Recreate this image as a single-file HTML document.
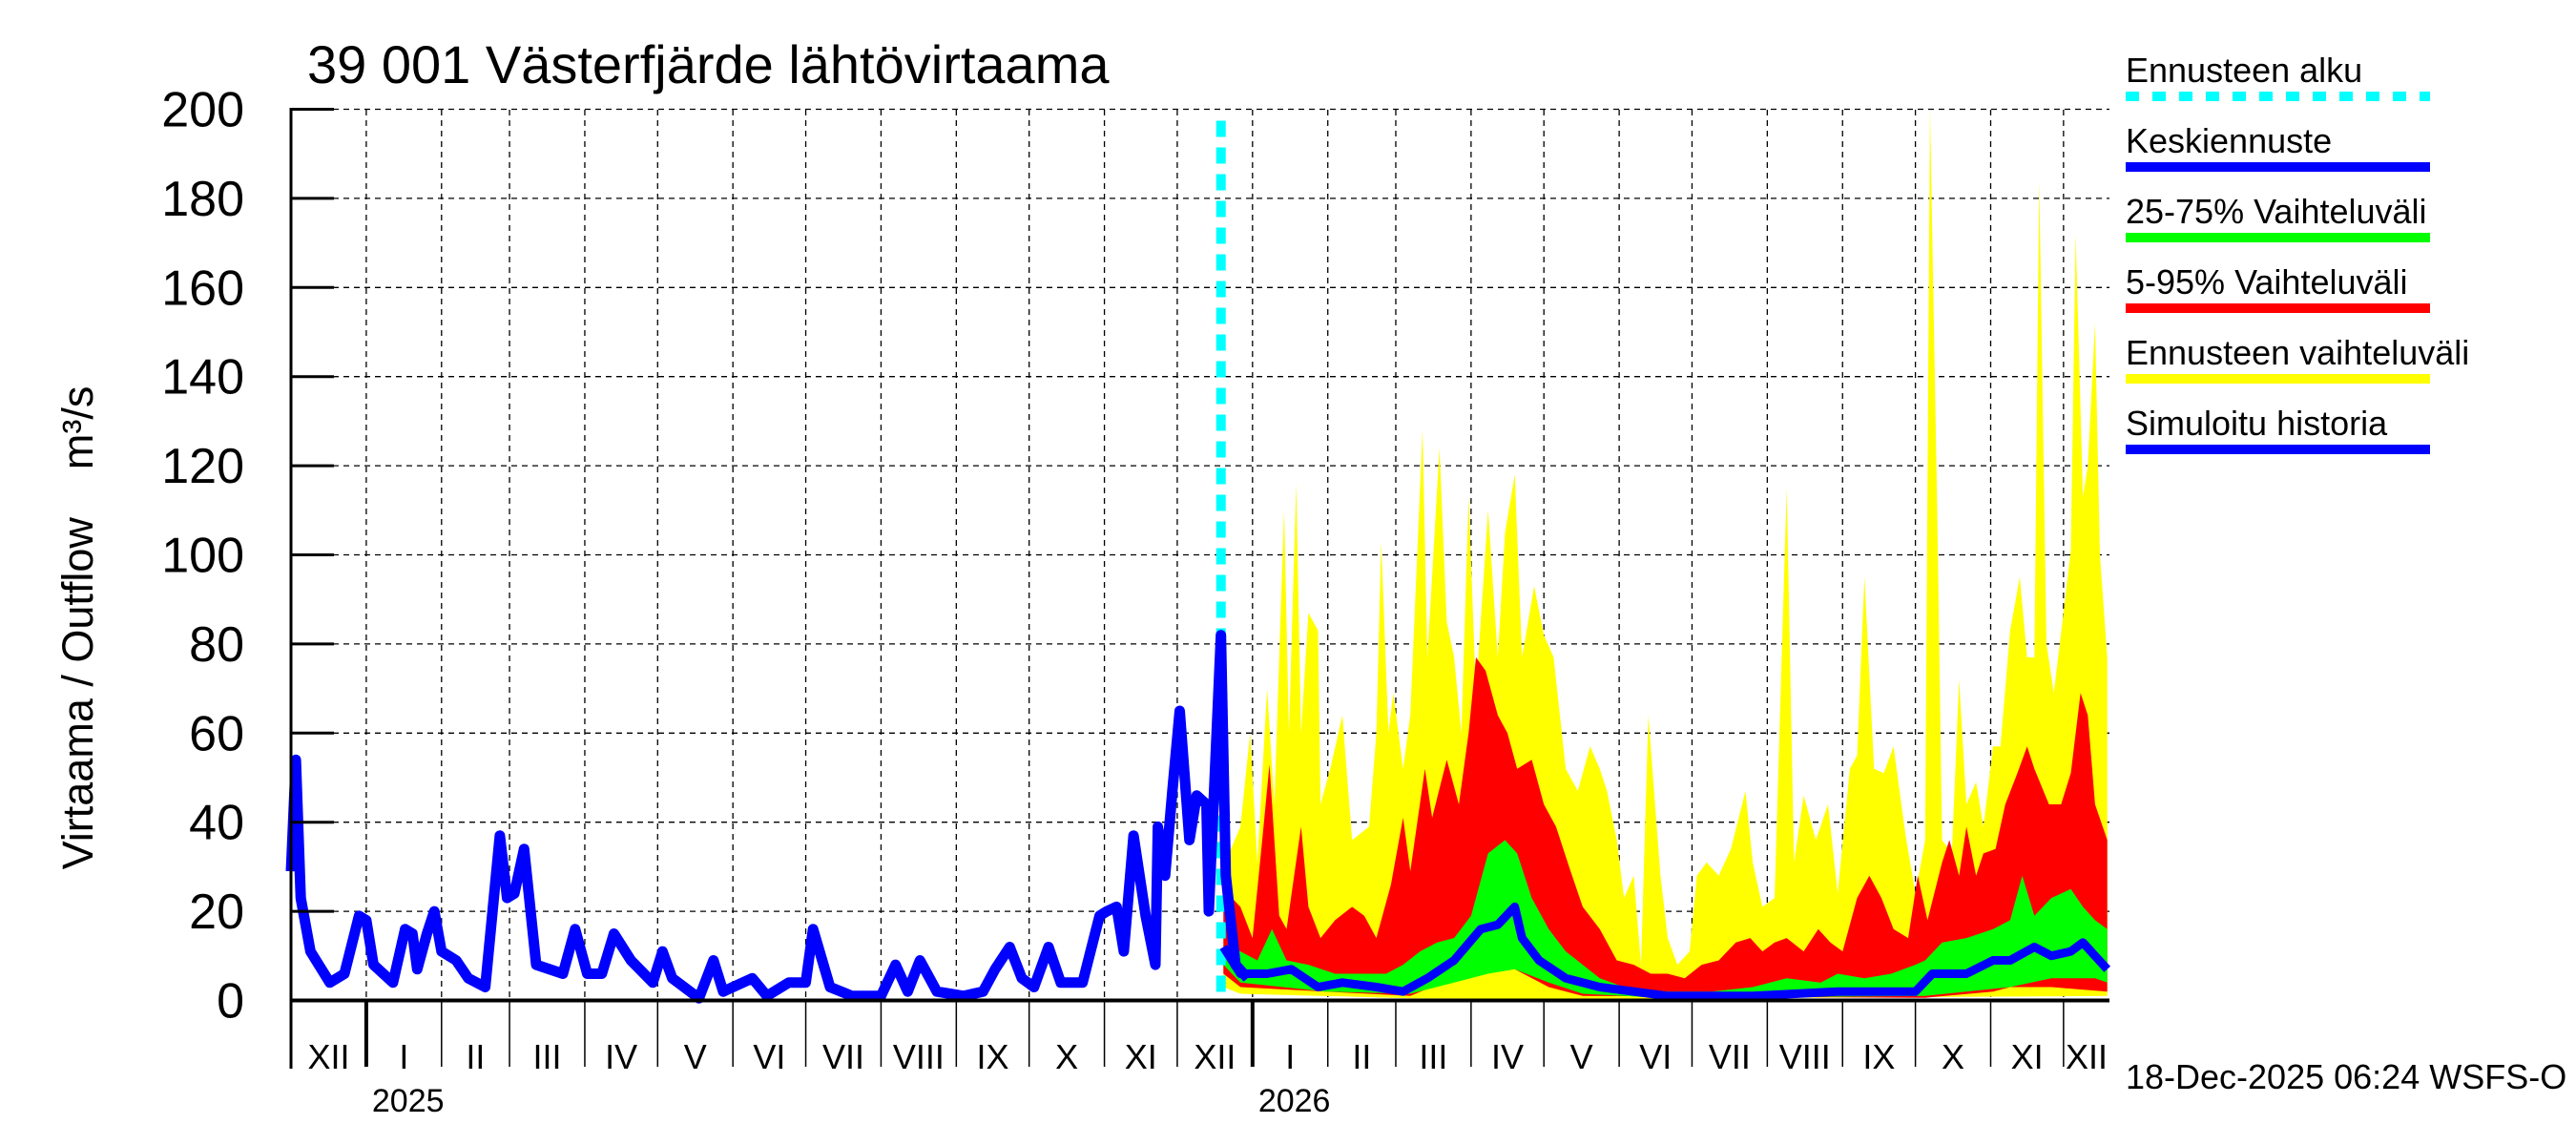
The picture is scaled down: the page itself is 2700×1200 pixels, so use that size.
<!DOCTYPE html>
<html><head><meta charset="utf-8"><style>
html,body{margin:0;padding:0;background:#fff;}
svg{display:block;font-family:"Liberation Sans",Arial,sans-serif;}
</style></head><body>
<svg id="chart" width="2700" height="1200" viewBox="0 0 2700 1200">
<rect x="0" y="0" width="2700" height="1200" fill="#fff"/>
<g id="grid"></g>
<g id="bands"></g>
<g id="lines"></g>
<g id="axes"></g>
<text x="322" y="87" font-size="56">39 001 Västerfjärde lähtövirtaama</text>
<text transform="translate(97,658) rotate(-90)" text-anchor="middle" font-size="45" xml:space="preserve" style="white-space:pre">Virtaama / Outflow    m³/s</text>
<text x="2228" y="1141" font-size="36">18-Dec-2025 06:24 WSFS-O</text>
<g id="legend"></g>
</svg>
<script>
// ---- data ----
const yTicks = [0,20,40,60,80,100,120,140,160,180,200];
const monthLabels = ["XII","I","II","III","IV","V","VI","VII","VIII","IX","X","XI","XII","I","II","III","IV","V","VI","VII","VIII","IX","X","XI","XII"];
const monthStartDays = [0,31,62,90,121,151,182,212,243,274,304,335,365,396,427,455,486,516,547,577,608,639,669,700,730];
const yearLabels = ["2025","2026"];
const yearStartDays = [31,396];
const forecastStartDay = 383;
// simulated history (days since 2024-12-01, m3/s)
const histDays = [0,2,4,8,16,22,28,31,34,42,47,50,52,56,59,62,68,73,80,86,89,92,96,101,112,117,122,128,133,140,149,153,157,168,174,178,190,196,205,212,215,222,231,243,249,254,259,266,277,285,290,296,301,306,312,317,326,333,336,340,343,347,352,356,357,360,363,366,370,373,377,378,383,385,389,394];
const histVals = [29,54,23,11,4,6,19,18,8,4,16,15,7,15,20,11,9,5,3,37,23,24,34,8,6,16,6,6,15,9,4,11,5,0.5,9,2,5,1,4,4,16,3,1,1,8,2,9,2,1,2,7,12,5,3,12,4,4,19,20,21,11,37,19,8,39,28,47,65,36,46,44,20,82,28,8,5];
// forecast envelopes (days since 2024-12-01)
const ymaxDays = [384,391,395,398,402,405,409,411,414,416,419,423,424,428,433,437,444,447,449,452,454,458,461,466,468,473,476,479,482,485,488,493,497,500,504,507,512,516,520,525,530,535,539,542,546,549,553,556,559,564,567,571,576,579,583,588,593,599,602,606,611,616,619,623,628,633,637,642,645,648,652,656,660,665,669,673,675,678,680,684,687,690,694,697,701,704,708,712,715,718,720,723,726,730,733,735,738,740,743,745,748];
const ymaxVals = [30,39,60,31,70,44,110,60,116,60,87,83,44,52,64,36,39,60,103,60,69,52,64,128,77,124,85,77,60,113,69,110,77,105,118,77,93,82,77,52,47,57,52,47,36,23,28,8,64,28,14,8,11,28,31,28,34,47,31,21,23,115,31,46,36,44,24,52,55,95,52,51,57,37,24,36,200,110,36,33,72,44,49,39,57,57,83,95,77,77,184,80,69,87,101,172,113,120,152,100,77];
const p95Days = [384,391,396,400,403,407,410,416,419,424,430,437,442,447,453,458,461,467,470,476,481,485,488,492,497,501,505,511,516,521,527,532,539,546,553,560,567,574,581,588,595,601,606,611,616,623,629,634,639,645,650,655,660,666,670,674,680,683,687,690,694,697,702,706,711,715,718,724,729,733,737,740,743,748];
const p95Vals = [25,21,14,36,53,19,16,39,21,14,18,21,19,14,26,41,29,52,41,54,44,60,77,74,64,60,52,54,44,39,29,21,16,9,8,6,6,5,8,9,13,14,11,13,14,11,16,13,11,23,28,23,16,14,28,18,31,36,28,39,28,33,34,44,51,57,52,44,44,51,69,64,44,36];
const p75Days = [384,391,398,404,410,419,430,440,451,458,465,472,479,486,493,500,505,511,518,525,532,539,549,567,585,602,616,630,637,648,659,669,673,680,690,701,708,713,718,725,733,738,743,748];
const p75Vals = [12,11,9,16,9,8,6,6,6,8,11,13,14,19,33,36,33,23,16,11,8,5,3,2,2,3,5,4,6,5,6,8,9,13,14,16,18,28,19,23,25,21,18,16];
const meanDays = [384,391,402,412,423,433,447,458,468,479,490,497,504,507,514,525,539,553,567,602,637,669,676,690,701,708,718,725,733,738,743,748];
const meanVals = [12,6,6,7,3,4,3,2,5,9,16,17,21,14,9,5,3,2,1,1,2,2,6,6,9,9,12,10,11,13,10,7];
const p25Days = [384,391,426,461,479,493,504,518,532,567,673,690,708,725,743,748];
const p25Vals = [8,4,2,1.5,4,6,7,4,1.5,0.5,1,2,3,5,5,4];
const p5Days = [384,391,426,461,483,493,504,518,532,673,701,708,725,748];
const p5Vals = [6,3,2,1,6,9,7,3,1,0.6,2,3,3,2];
const yminDays = [384,391,461,532,748];
const yminVals = [3,1.5,0.5,0.3,1];

// ---- scales ----
const X0=305, PXD=2.545, Y0=1048.5, PXV=4.67, XR=2211, YT=115;
const xs = d => X0 + d*PXD;
const ys = v => Y0 - v*PXV;
const NS='http://www.w3.org/2000/svg';
function mk(tag, attrs, parent){const e=document.createElementNS(NS,tag);for(const k in attrs)e.setAttribute(k,attrs[k]);parent.appendChild(e);return e;}
function bandPath(dU,vU,dL,vL){
  let p='M'+xs(dU[0]).toFixed(1)+','+ys(vU[0]).toFixed(1);
  for(let i=1;i<dU.length;i++) p+=' L'+xs(dU[i]).toFixed(1)+','+ys(vU[i]).toFixed(1);
  for(let i=dL.length-1;i>=0;i--) p+=' L'+xs(dL[i]).toFixed(1)+','+ys(vL[i]).toFixed(1);
  return p+' Z';
}
function linePts(days, vals){return days.map((d,i)=>xs(d).toFixed(1)+','+ys(vals[i]).toFixed(1)).join(' ');}

// ---- grid ----
const grid=document.getElementById('grid');
yTicks.forEach(v=>{ if(v>0){
  const l=mk('line',{x1:X0,x2:XR,y1:ys(v),y2:ys(v),stroke:'#000','stroke-width':1.3,'stroke-dasharray':'6,5'},grid);
  
  
}});
monthStartDays.forEach((d,i)=>{ if(i>0){
  const l=mk('line',{x1:xs(d),x2:xs(d),y1:YT,y2:Y0,stroke:'#000','stroke-width':1.3,'stroke-dasharray':'6,5'},grid);
  
  
}});

// ---- bands ----
const bands=document.getElementById('bands');
const bandDefs=[['yellow-band',ymaxDays,ymaxVals,yminDays,yminVals,'#ffff00'],
  ['red-band',p95Days,p95Vals,p5Days,p5Vals,'#ff0000'],
  ['green-band',p75Days,p75Vals,p25Days,p25Vals,'#00ff00']];
bandDefs.forEach(b=>{
  const p=mk('path',{d:bandPath(b[1],b[2],b[3],b[4]),fill:b[5]},bands);
  
  
});

// ---- lines ----
const lines=document.getElementById('lines');
const fl=mk('line',{x1:xs(forecastStartDay),x2:xs(forecastStartDay),y1:ys(200)+12,y2:Y0,stroke:'#00ffff','stroke-width':10,'stroke-dasharray':'17,11'},lines);


const hl=mk('polyline',{points:linePts(histDays,histVals),fill:'none',stroke:'#0000ff','stroke-width':11,'stroke-linejoin':'round'},lines);


const ml=mk('polyline',{points:linePts(meanDays,meanVals),fill:'none',stroke:'#0000ff','stroke-width':9,'stroke-linejoin':'round'},lines);



// ---- axes ----
const axes=document.getElementById('axes');
const ya=mk('line',{x1:X0,x2:X0,y1:YT-2,y2:1120,stroke:'#000','stroke-width':3},axes);


const xa=mk('line',{x1:X0,x2:XR,y1:Y0,y2:Y0,stroke:'#000','stroke-width':4},axes);


yTicks.forEach(v=>{
  const t=mk('line',{x1:X0,x2:350,y1:ys(v),y2:ys(v),stroke:'#000','stroke-width':3},axes);
  
  
  const tx=mk('text',{x:256,y:ys(v)+18,'text-anchor':'end','font-size':52},axes);
  tx.textContent=v;
  
  
});
monthStartDays.forEach((d,i)=>{
  if(i>0){
    const isYear=yearStartDays.indexOf(d)>=0;
    const t=mk('line',{x1:xs(d),x2:xs(d),y1:Y0,y2:1118,stroke:'#000','stroke-width':isYear?4:1.5},axes);
    
    
  }
  const end = i+1<monthStartDays.length ? monthStartDays[i+1] : 749;
  const tx=mk('text',{x:(xs(d)+xs(Math.min(end,749)))/2,y:1120,'text-anchor':'middle','font-size':36},axes);
  tx.textContent=monthLabels[i];
  
  
});
yearStartDays.forEach((d,i)=>{
  const tx=mk('text',{x:xs(d)+6,y:1165,'font-size':34},axes);
  tx.textContent=yearLabels[i];
  
  
});

// ---- legend ----
const legend=document.getElementById('legend');
const legNames=["Ennusteen alku","Keskiennuste","25-75% Vaihteluväli","5-95% Vaihteluväli","Ennusteen vaihteluväli","Simuloitu historia"];
const legColors=["#00ffff","#0000ff","#00ff00","#ff0000","#ffff00","#0000ff"];
legNames.forEach((n,i)=>{
  const y=86+i*74;
  const tx=mk('text',{x:2228,y:y,'font-size':36},legend);
  tx.textContent=n;
  
  
  const attrs={x1:2228,x2:2547,y1:y+15,y2:y+15,stroke:legColors[i],'stroke-width':10};
  if(i===0) attrs['stroke-dasharray']='14,14';
  const l=mk('line',attrs,legend);
  
  
});
</script>
</body></html>
